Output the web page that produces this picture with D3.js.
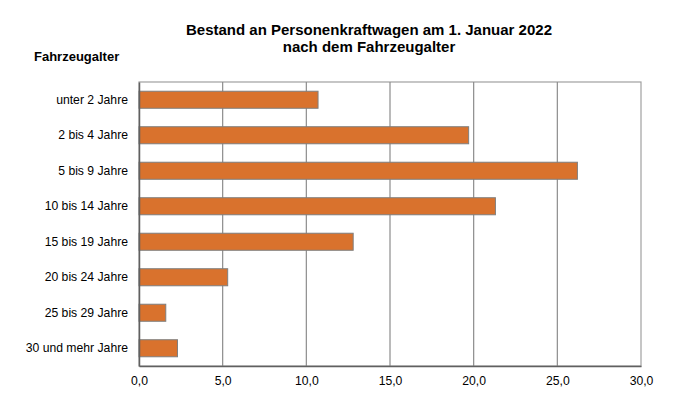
<!DOCTYPE html>
<html>
<head>
<meta charset="utf-8">
<script src="https://cdn.jsdelivr.net/npm/d3@7"></script>
<style>
  body { margin: 0; background: #fff; }
  text { font-family: "Liberation Sans", Arial, sans-serif; }
</style>
</head>
<body>
<script>
// categories and values (Mio. Pkw)
const categories = ["unter 2 Jahre", "2 bis 4 Jahre", "5 bis 9 Jahre", "10 bis 14 Jahre",
                    "15 bis 19 Jahre", "20 bis 24 Jahre", "25 bis 29 Jahre", "30 und mehr Jahre"];
const values = [10.7, 19.7, 26.2, 21.3, 12.8, 5.3, 1.6, 2.3];
const xTicks = [0, 5, 10, 15, 20, 25, 30];
const titleLines = ["Bestand an Personenkraftwagen am 1. Januar 2022", "nach dem Fahrzeugalter"];

const W = 690, H = 394;
const MARGIN = {top: 82, right: 49, bottom: 28, left: 139};
const width = W - MARGIN.left - MARGIN.right,
      height = H - MARGIN.top - MARGIN.bottom;

const svg = d3.select("body").append("svg")
    .attr("width", W)
    .attr("height", H);

// title
svg.append("text")
    .attr("x", 369).attr("y", 35)
    .attr("text-anchor", "middle")
    .attr("font-size", 15).attr("font-weight", "bold")
    .selectAll("tspan").data(titleLines).join("tspan")
      .attr("x", 369)
      .attr("dy", (d, i) => i ? 17 : 0)
      .text(d => d);

svg.append("text")
    .attr("x", 34).attr("y", 61)
    .attr("font-size", 13).attr("font-weight", "bold")
    .text("Fahrzeugalter");

const g = svg.append("g")
    .attr("transform", `translate(${MARGIN.left},${MARGIN.top})`);

const x = d3.scaleLinear().domain([0, 30]).range([0, width]);
const y = d3.scaleBand().domain(categories).range([0, height]).paddingInner(0.52).paddingOuter(0.26);

// frame + grid
g.append("rect")
    .attr("width", width).attr("height", height)
    .attr("fill", "none").attr("stroke", "#a0a0a0").attr("stroke-width", 1.2);

g.selectAll(".grid").data(xTicks.slice(1, -1)).join("line")
    .attr("x1", d => x(d)).attr("x2", d => x(d))
    .attr("y1", 0).attr("y2", height)
    .attr("stroke", "#8c8c8c").attr("stroke-width", 1.2);

// bars
g.selectAll(".bar").data(values).join("rect")
    .attr("x", 0)
    .attr("y", (d, i) => y(categories[i]))
    .attr("width", d => x(d))
    .attr("height", y.bandwidth())
    .attr("fill", "#d9722d")
    .attr("stroke", "#7f7f7f").attr("stroke-width", 1);

// axes
const xAxis = g.append("g")
    .attr("transform", `translate(0,${height})`)
    .call(d3.axisBottom(x).tickValues(xTicks).tickSize(0).tickPadding(10)
        .tickFormat(d => d3.format(".1f")(d).replace(".", ",")));
xAxis.select(".domain").attr("stroke", "#606060").attr("stroke-width", 1.5);
xAxis.selectAll("text").attr("font-size", 12.2).attr("fill", "#000");

const yAxis = g.append("g")
    .call(d3.axisLeft(y).tickSize(0).tickPadding(11));
yAxis.select(".domain").attr("stroke", "#606060").attr("stroke-width", 1.5);
yAxis.selectAll("text").attr("font-size", 12.2).attr("fill", "#000");
</script>
</body>
</html>
